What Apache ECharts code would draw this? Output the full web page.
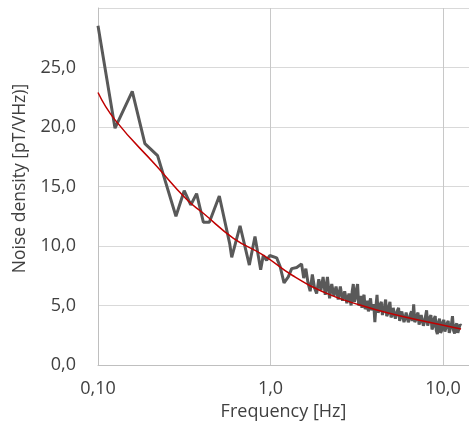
<!DOCTYPE html>
<html>
<head>
<meta charset="utf-8">
<script src="https://cdn.jsdelivr.net/npm/echarts@6/dist/echarts.min.js"></script>
<style>
  html, body { margin: 0; padding: 0; background: #fff; }
  #chart { width: 469px; height: 421px; }
</style>
</head>
<body>
<div id="chart"></div>
<script>
// measured noise spectrum (frequency in Hz, density in pT/VHz)
var noiseFreq = [0.1, 0.1255, 0.158, 0.187, 0.2215, 0.283, 0.316, 0.345, 0.373, 0.408, 0.442, 0.505,
  0.58, 0.596, 0.666, 0.754, 0.813, 0.877, 0.908, 0.95, 0.99, 1.086, 1.136, 1.198, 1.268, 1.327, 1.419,
  1.514, 1.558, 1.603, 1.650, 1.698, 1.748, 1.799, 1.851, 1.905, 1.961, 2.018, 2.077, 2.138, 2.200,
  2.265, 2.331, 2.399, 2.469, 2.541, 2.615, 2.692, 2.770, 2.851,
  2.934, 2.977, 3.020, 3.064, 3.108, 3.153, 3.199, 3.245, 3.293, 3.340, 3.388, 3.437, 3.487, 3.538,
  3.589, 3.641, 3.694, 3.748, 3.802, 3.857, 3.913, 3.970, 4.027, 4.086, 4.145, 4.205, 4.266, 4.328,
  4.390, 4.454, 4.519, 4.585, 4.651, 4.718, 4.786, 4.856, 4.926, 4.998, 5.070, 5.144, 5.218, 5.294,
  5.370, 5.448, 5.527, 5.608, 5.689, 5.771, 5.855, 5.940, 6.026, 6.113, 6.202, 6.292, 6.383, 6.476,
  6.569, 6.665, 6.761, 6.859, 6.959, 7.059, 7.161, 7.265, 7.371, 7.478, 7.586, 7.696, 7.807, 7.920,
  8.035, 8.152, 8.270, 8.390, 8.511, 8.635, 8.760, 8.887, 9.016, 9.147, 9.279, 9.414, 9.550, 9.689,
  9.829, 9.973, 10.12, 10.26, 10.41, 10.56, 10.72, 10.87, 11.03, 11.19, 11.35, 11.51, 11.68, 11.85,
  12.02, 12.19, 12.37, 12.55, 12.74];
var noiseVal = [28.5, 19.9, 23.0, 18.6, 17.6, 12.5, 14.65, 13.45, 14.4, 12.0, 12.0, 14.2,
  10.2, 9.05, 11.7, 8.4, 10.8, 8.0, 9.2, 8.8, 9.2, 9.0, 8.3, 6.9, 7.4, 8.1, 8.2,
  8.5, 7.3, 8.1, 6.9, 6.2, 7.6, 6.5, 6.0, 7.2, 6.3, 7.4, 5.9, 7.4, 5.6,
  6.8, 5.8, 6.6, 5.5, 6.6, 5.4, 6.2, 5.2, 6.0,
  5.0, 6.2, 6.8, 5.3, 5.6, 6.4, 6.8, 5.0, 5.2, 5.8, 4.8, 5.6, 5.9, 4.7,
  4.9, 5.4, 4.5, 5.2, 5.6, 4.6, 4.7, 5.1, 3.6, 4.9, 5.9, 4.4, 4.6, 5.1,
  5.3, 4.2, 4.3, 5.0, 5.5, 4.1, 4.3, 4.9, 5.3, 4.0, 4.2, 4.8, 4.9, 3.9,
  4.0, 4.6, 4.8, 3.7, 3.8, 4.5, 4.6, 3.6, 3.9, 4.4, 4.5, 3.6, 3.8, 4.3,
  4.5, 3.7, 5.1, 3.6, 3.8, 4.2, 4.4, 3.4, 3.7, 4.2, 4.3, 3.3, 3.6, 4.1,
  4.6, 3.3, 3.4, 4.0, 4.2, 3.0, 3.2, 3.9, 4.1, 2.9, 2.6, 3.6, 3.9, 2.7,
  2.9, 3.6, 3.8, 2.8, 2.65, 3.5, 3.7, 2.7, 2.6, 3.4, 4.1, 2.9, 2.65, 3.3,
  3.5, 2.7, 2.8, 3.4, 3.3];

// fitted trend line
var fitFreq = [0.1, 0.1255, 0.219, 0.327, 0.408, 0.61, 0.908, 1.35, 2.117, 3.3, 5.15, 8.05, 12.72];
var fitVal = [22.9, 20.6, 16.7, 13.9, 12.75, 10.65, 9.24, 7.5, 6.02, 5.04, 4.26, 3.64, 3.03];

var xTickText = { '-1': '0,10', '0': '1,0', '1': '10,0' };

function pairs(xs, ys) {
  var out = [];
  for (var i = 0; i < xs.length; i++) out.push([xs[i], ys[i]]);
  return out;
}

var chart = echarts.init(document.getElementById('chart'));
var font = '"Open Sans", sans-serif';

chart.setOption({
  animation: false,
  grid: { left: 98, top: 8, right: 0, bottom: 56, containLabel: false, outerBoundsMode: 'none' },
  xAxis: {
    type: 'log',
    logBase: 10,
    min: 0.1,
    max: 14.15,
    name: 'Frequency [Hz]',
    nameLocation: 'middle',
    nameGap: 38,
    nameTextStyle: { color: '#404040', fontSize: 18, fontFamily: font },
    axisLine: { lineStyle: { color: '#bfbfbf', width: 1 } },
    axisTick: { show: false },
    axisLabel: {
      color: '#404040', fontSize: 18, fontFamily: font, margin: 15, showMaxLabel: false,
      formatter: function (v) {
        var e = Math.log10(v);
        if (Math.abs(e - Math.round(e)) > 1e-6) return '';
        return xTickText[String(Math.round(e))] || '';
      }
    },
    splitLine: { show: true, lineStyle: { color: '#c8c8c8', width: 1 } },
    minorTick: { show: false },
    minorSplitLine: { show: false }
  },
  yAxis: {
    type: 'value',
    min: 0,
    max: 30,
    interval: 5,
    name: 'Noise density [pT/VHz)]',
    nameLocation: 'middle',
    nameGap: 69,
    nameTextStyle: { color: '#404040', fontSize: 17.5, fontFamily: font, padding: [0, 0, 0, 16] },
    axisLine: { show: true, lineStyle: { color: '#bfbfbf', width: 1 } },
    axisTick: { show: false },
    axisLabel: {
      color: '#404040', fontSize: 18, fontFamily: font, margin: 22, showMaxLabel: false,
      formatter: function (v) { return v.toFixed(1).replace('.', ','); }
    },
    splitLine: { show: true, lineStyle: { color: '#d9d9d9', width: 1 } }
  },
  series: [
    {
      type: 'line',
      data: pairs(noiseFreq, noiseVal),
      showSymbol: false,
      lineStyle: { color: '#595959', width: 3 },
      z: 2
    },
    {
      type: 'line',
      data: pairs(fitFreq, fitVal),
      smooth: true,
      showSymbol: false,
      lineStyle: { color: '#c00000', width: 1.5 },
      z: 3
    }
  ]
});
</script>
</body>
</html>
